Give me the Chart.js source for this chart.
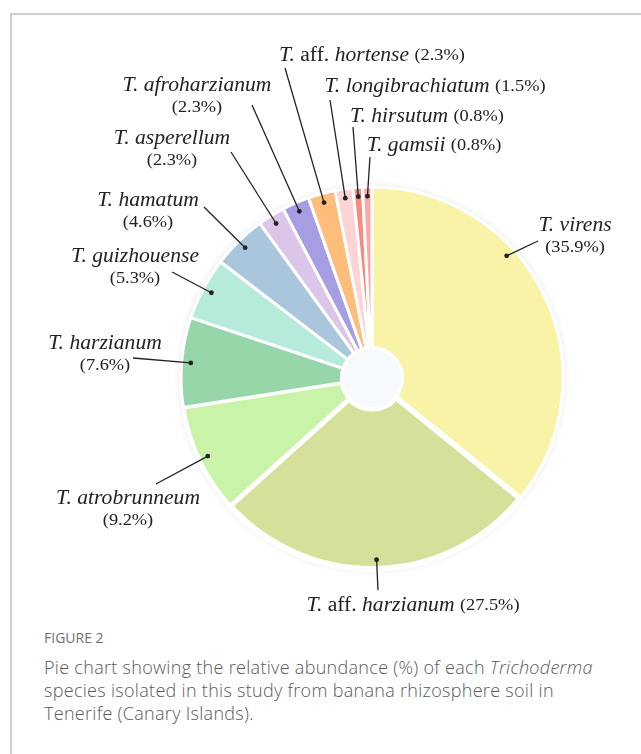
<!DOCTYPE html>
<html>
<head>
<meta charset="utf-8">
<script src="https://cdn.jsdelivr.net/npm/chart.js@4"></script>
<style>
  html, body { margin:0; padding:0; background:#fff; }
  body { width:641px; height:754px; position:relative; overflow:hidden; }
  .frame { position:absolute; left:10px; top:13px; width:700px; height:800px;
           border-left:2px solid #cfcfcf; border-top:2px solid #cfcfcf; }
  .wrap { position:absolute; left:0; top:0; width:641px; height:625px; }
  .fig { position:absolute; left:44px; top:628px; font-family:"Open Sans", sans-serif;
         font-size:14px; color:#707070; }
  .cap { position:absolute; left:44px; top:656px; width:575px; font-family:"Open Sans", sans-serif;
         font-weight:300; font-size:18px; letter-spacing:0.3px; line-height:23px; color:#5a5a5a; }
</style>
</head>
<body>
<div class="frame"></div>
<div class="wrap"><canvas id="pie"></canvas></div>
<div class="fig">FIGURE 2</div>
<div class="cap">Pie chart showing the relative abundance (%) of each <i>Trichoderma</i> species isolated in this study from banana rhizosphere soil in Tenerife (Canary Islands).</div>
<script>
// data
const species = ['virens','aff. harzianum','atrobrunneum','harzianum','guizhouense','hamatum',
                 'asperellum','afroharzianum','aff. hortense','longibrachiatum','hirsutum','gamsii'];
const abundance = [35.9, 27.5, 9.2, 7.6, 5.3, 4.6, 2.3, 2.3, 2.3, 1.5, 0.8, 0.8];
const colors = ['#f8f3a6','#d5e09b','#c9f3a9','#97d6a9','#b6ebdb','#a9c6dd',
                '#dbc6e9','#a59ee3','#fdbe7b','#fdd3d6','#fc8a7c','#fca8a8'];

// label layout, offsets from pie centre: text x, text y, line start x, line start y, one line?, dot position in slice
const labelAt = [
  [203,-152, 166,-137, false, 0.37],
  [ 41, 228,   6, 212, true,  0.5],
  [-244,121, -216,106, false, 0.5],
  [-267,-34, -239,-20, false, 0.5],
  [-237,-121,-200,-106,false, 0.5],
  [-224,-177,-168,-171,false, 0.5],
  [-200,-239,-141,-226,false, 0.5],
  [-175,-292,-120,-273,false, 0.5],
  [  0,-322, -87,-310, true,  0.5],
  [ 63,-291, -42,-278, true,  0.5],
  [ 55,-261, -19,-251, true,  0.5],
  [ 62,-232,  -2,-221, true,  0.5],
];

const SX = 1.08;
const fonts = {
  i: 'italic 20px "Liberation Serif", "Times New Roman", serif',
  n: '20px "Liberation Serif", "Times New Roman", serif',
  p: '17px "Liberation Serif", "Times New Roman", serif'
};

function nameRuns(s){
  const r = [['T. ','i']];
  if (s.startsWith('aff. ')) { r.push(['aff. ','n']); r.push([s.slice(5),'i']); }
  else r.push([s,'i']);
  return r;
}

function drawRuns(ctx, runs, cx, cy){
  let w = 0;
  runs.forEach(r => { ctx.font = fonts[r[1]]; w += ctx.measureText(r[0]).width; });
  ctx.save();
  ctx.translate(cx, cy);
  ctx.scale(SX, 1);
  let x = -w/2;
  runs.forEach(r => {
    ctx.font = fonts[r[1]];
    ctx.fillText(r[0], x, 0);
    x += ctx.measureText(r[0]).width;
  });
  ctx.restore();
}

const pieDeco = {
  id:'pieDeco',
  beforeDatasetsDraw(chart){
    const a = chart.getDatasetMeta(0).data[0];
    const ctx = chart.ctx;
    ctx.save();
    ctx.shadowColor = 'rgba(0,0,0,0.12)';
    ctx.shadowBlur = 8;
    ctx.fillStyle = '#fff';
    ctx.beginPath();
    ctx.arc(a.x, a.y, a.outerRadius, 0, Math.PI*2);
    ctx.fill();
    ctx.restore();
  },
  afterDatasetsDraw(chart){
    const arcs = chart.getDatasetMeta(0).data;
    const ctx = chart.ctx;
    const cx = arcs[0].x, cy = arcs[0].y, R = arcs[0].outerRadius;
    ctx.save();
    ctx.fillStyle = '#f6fafd';
    ctx.beginPath();
    ctx.arc(cx, cy, arcs[0].innerRadius - 1.5, 0, Math.PI*2);
    ctx.fill();

    ctx.strokeStyle = '#222';
    ctx.fillStyle = '#222';
    ctx.lineWidth = 1.3;
    ctx.textBaseline = 'middle';
    arcs.forEach((arc, i) => {
      const L = labelAt[i];
      const ang = arc.startAngle + (arc.endAngle - arc.startAngle) * L[5];
      const dx = cx + Math.cos(ang) * R * 0.952;
      const dy = cy + Math.sin(ang) * R * 0.952;
      ctx.beginPath();
      ctx.moveTo(cx + L[2], cy + L[3]);
      ctx.lineTo(dx, dy);
      ctx.stroke();
      ctx.beginPath();
      ctx.arc(dx, dy, 2.4, 0, Math.PI*2);
      ctx.fill();

      const pct = ['(' + abundance[i].toFixed(1) + '%)', 'p'];
      const runs = nameRuns(species[i]);
      if (L[4]) {
        runs[runs.length-1][0] += ' ';
        drawRuns(ctx, runs.concat([pct]), cx + L[0], cy + L[1]);
      } else {
        drawRuns(ctx, runs, cx + L[0], cy + L[1]);
        drawRuns(ctx, [pct], cx + L[0], cy + L[1] + 22);
      }
    });
    ctx.restore();
  }
};

new Chart(document.getElementById('pie'), {
  type:'doughnut',
  data:{
    labels: species.map(s => 'T. ' + s),
    datasets:[{
      data: abundance,
      backgroundColor: colors,
      borderColor:'#fff',
      borderWidth:[3,6,4,3,3,3,3,3,3,3,3,3]
    }]
  },
  options:{
    responsive:true,
    maintainAspectRatio:false,
    animation:false,
    cutout:'16%',
    layout:{ padding:{ left:178, top:184, right:75, bottom:53 } },
    plugins:{ legend:{ display:false }, tooltip:{ enabled:false } }
  },
  plugins:[pieDeco]
});
</script>
</body>
</html>
